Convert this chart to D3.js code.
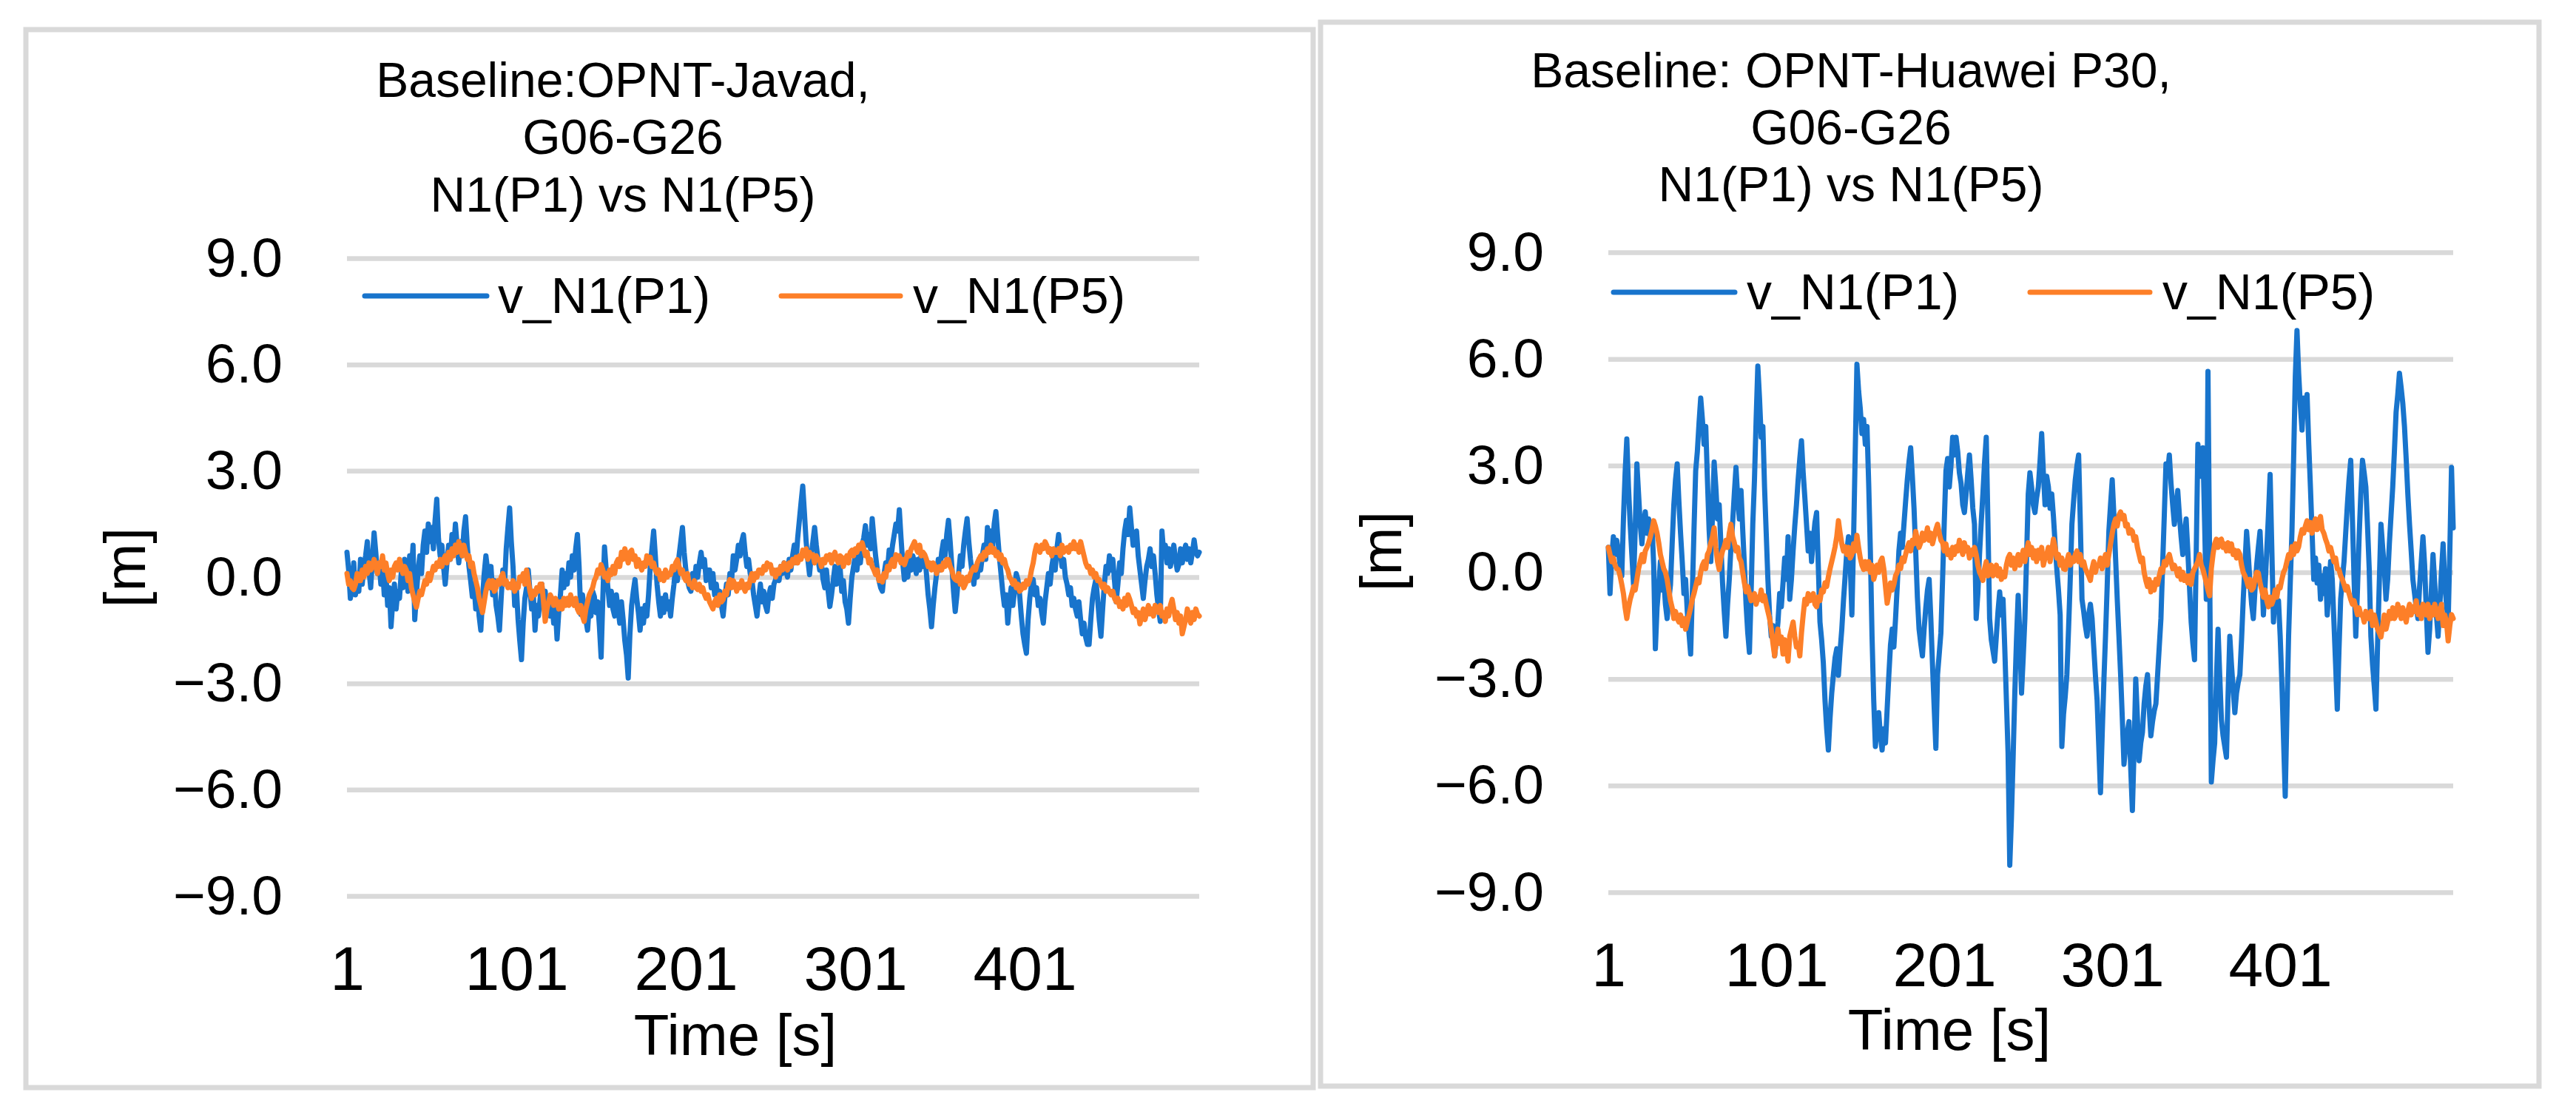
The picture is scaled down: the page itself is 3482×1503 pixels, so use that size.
<!DOCTYPE html>
<html>
<head>
<meta charset="utf-8">
<script src="https://cdn.jsdelivr.net/npm/d3@7"></script>
<style>
  body { margin: 0; background: #fff; }
  text { font-family: "Liberation Sans", Arial, sans-serif; fill: #000; }
</style>
</head>
<body>
<div id="chart-area"></div>
<script>
const W = 3482
const H = 1503

// ---- data ----
const SERIES_NAMES = ["v_N1(P1)", "v_N1(P5)"]
const Y_TICKS = [-9, -6, -3, 0, 3, 6, 9]
const X_TICKS = [1, 101, 201, 301, 401]
const TITLE_LEFT = ["Baseline:OPNT-Javad,", "G06-G26", "N1(P1) vs N1(P5)"]
const TITLE_RIGHT = ["Baseline: OPNT-Huawei P30,", "G06-G26", "N1(P1) vs N1(P5)"]
const X_LABEL = "Time [s]"
const Y_LABEL = "[m]"

// Javad, N1(P1)
const javadP1 = [
 0.7,0.2,-0.6,-0.3,0.4,-0.5,0.1,-0.4,0.5,-0.2,
 0.3,0.6,1.0,0.2,-0.3,0.5,1.25,0.7,0.1,0.4,
 -0.2,0.3,-0.5,0.1,-0.8,-0.3,-1.4,-0.7,-0.2,-0.9,
 -0.4,-0.6,0.1,-0.3,0.5,0.2,-0.4,0.6,0.1,0.9,
 -1.2,-0.5,0.2,0.6,0.1,0.9,1.3,0.7,1.5,1.0,
 1.4,0.8,1.6,2.2,1.1,0.6,0.9,0.3,-0.2,0.4,
 0.9,0.5,1.2,0.8,1.5,0.9,0.4,1.0,0.6,1.3,
 1.7,0.9,0.3,-0.1,-0.55,-0.2,-0.9,-0.4,-1.1,-1.5,
 -0.6,0.1,0.6,0.2,-0.3,0.3,-0.5,-0.1,-0.8,-1.1,
 -1.5,-0.6,0.2,-0.2,0.8,1.4,1.95,1.0,0.3,-0.8,
 -0.3,-1.2,-1.8,-2.33,-1.3,-0.6,-0.3,0.2,-0.4,-0.9,
 -0.5,-1.5,-0.8,-1.1,-0.6,-0.2,-0.8,-0.4,-1.0,-0.6,
 -1.1,-0.7,-1.3,-0.9,-1.75,-1.0,-0.5,0.2,-0.3,0.1,
 -0.2,0.4,0.0,0.6,0.2,0.8,1.2,0.3,-1.05,-0.5,
 -0.9,-1.2,-1.5,-0.8,-1.1,-0.4,-0.55,-1.0,-0.7,-1.4,
 -2.26,-0.6,0.85,0.2,-0.3,-0.8,-0.4,-0.9,-1.1,-0.5,
 -0.9,-1.3,-0.7,-1.2,-1.8,-2.2,-2.85,-1.6,-0.8,-0.4,
 -0.07,-0.6,-1.0,-1.5,-0.9,-1.3,-0.8,-1.1,-0.5,0.3,
 0.8,1.3,0.6,-0.2,-0.7,-1.1,-0.6,-1.0,-0.5,-0.9,
 -0.7,-1.1,-0.6,-0.2,0.3,-0.1,0.6,1.0,1.4,0.7,
 0.2,-0.1,-0.3,-0.4,0.1,-0.2,0.3,0.0,0.4,0.7,
 0.3,0.5,-0.1,0.2,0.2,-0.3,0.1,-0.5,-0.2,-0.7,
 -0.4,-0.8,-1.1,-0.6,-0.2,-0.5,0.1,-0.1,0.6,0.2,
 0.5,0.9,0.6,1.0,1.2,0.7,0.3,0.5,0.1,-0.07,
 -0.5,-0.8,-1.1,-0.6,-0.2,-0.7,-0.4,-0.8,-0.97,-0.5,
 -0.3,-0.6,-0.2,-0.07,0.2,-0.1,0.3,0.1,0.4,0.2,
 0.0,0.5,0.2,0.6,0.9,0.4,1.1,1.6,2.1,2.57,
 1.8,1.0,0.5,0.07,0.6,1.0,1.4,0.9,0.5,0.2,
 0.4,-0.07,-0.3,0.2,-0.4,-0.83,-0.5,-0.1,0.3,-0.2,
 -0.07,0.3,-0.4,-0.1,-0.7,-0.9,-1.3,-0.6,0.0,0.3,
 0.6,0.2,0.7,0.4,0.9,1.1,1.45,0.9,1.2,0.8,
 1.65,1.1,0.6,0.2,-0.1,-0.3,-0.4,0.1,0.4,0.2,
 0.76,0.5,0.9,1.2,1.5,1.3,1.9,1.1,0.4,-0.07,
 0.3,0.0,0.5,0.2,0.6,0.35,0.1,0.5,0.2,0.7,
 0.3,0.6,0.1,-0.5,-0.9,-1.4,-0.8,-0.3,0.1,0.5,
 0.2,0.7,1.0,0.6,1.2,1.6,1.0,0.3,-0.4,-0.97,
 -0.5,0.1,0.6,0.3,0.9,1.3,1.65,1.0,0.5,0.1,
 -0.2,0.3,0.0,0.5,0.2,0.6,0.9,0.5,1.4,1.0,
 1.3,0.8,1.5,1.85,1.2,0.6,0.1,-0.4,-0.8,-0.5,
 -1.3,-0.7,-0.3,-0.8,-0.4,0.1,-0.07,-0.5,-1.1,-1.6,
 -1.9,-2.15,-1.2,-0.6,-0.2,-0.07,-0.5,-0.3,-0.8,-0.6,
 -1.0,-1.3,-0.7,-0.3,0.1,-0.2,0.3,0.6,0.2,0.8,
 1.2,0.7,0.3,0.5,0.0,-0.2,-0.5,-0.3,-0.8,-0.6,
 -0.9,-1.1,-0.7,-1.2,-1.6,-1.3,-1.7,-1.9,-1.9,-1.2,
 -0.6,-0.3,-0.07,-0.6,-1.2,-1.67,-0.9,-0.2,0.3,0.1,
 0.6,0.2,0.5,-0.1,-0.7,-0.2,0.4,0.1,0.8,1.3,
 1.6,1.2,1.95,1.4,0.9,1.1,1.3,0.6,0.2,-0.2,
 -0.6,-0.1,0.3,0.5,0.8,0.3,0.6,0.1,-0.5,-0.9,
 -1.25,1.3,0.7,0.9,0.4,0.8,0.3,0.6,0.9,0.5,
 0.2,0.35,0.8,0.4,0.7,0.9,0.5,0.8,0.4,0.7,
 1.05,0.7,0.6,0.7
]

// Javad, N1(P5)
const javadP5 = [
 0.1,-0.2,-0.1,-0.3,-0.35,-0.2,0.1,-0.1,-0.1,0.2,
 0.0,0.3,0.1,0.4,0.2,0.3,0.5,0.3,0.1,0.4,
 0.3,0.6,0.2,0.4,0.1,-0.1,0.2,0.0,0.3,0.4,
 0.2,0.5,0.3,0.1,0.3,0.2,-0.1,0.1,-0.3,-0.5,
 -0.7,-0.85,-0.6,-0.4,-0.5,-0.3,-0.1,-0.2,0.1,-0.1,
 0.1,0.3,0.2,0.4,0.3,0.5,0.3,0.5,0.6,0.4,
 0.7,0.5,0.8,0.6,0.9,0.7,1.0,0.8,0.6,0.9,
 0.7,0.5,0.6,0.3,0.4,0.1,-0.1,-0.3,-0.6,-0.8,
 -1.0,-0.7,-0.4,-0.2,-0.1,-0.3,-0.1,-0.4,-0.3,-0.1,
 -0.2,0.0,0.1,-0.2,-0.1,-0.3,-0.2,-0.3,-0.1,-0.4,
 -0.2,-0.3,0.0,-0.1,0.1,-0.2,0.2,-0.1,-0.4,-0.6,
 -0.4,-0.5,-0.3,-0.4,-0.2,-0.2,-0.7,-1.25,-0.9,-0.7,
 -0.5,-0.6,-0.8,-0.6,-0.7,-0.9,-0.7,-0.9,-0.6,-0.8,
 -0.6,-0.8,-0.5,-0.7,-0.8,-0.6,-0.9,-1.0,-0.8,-1.1,
 -1.25,-0.9,-0.7,-0.5,-0.4,-0.3,-0.1,0.0,0.2,0.1,
 0.35,0.2,0.0,0.1,-0.1,0.2,0.07,0.3,0.1,0.4,
 0.5,0.3,0.7,0.5,0.8,0.6,0.4,0.7,0.76,0.5,
 0.6,0.3,0.5,0.35,0.2,0.4,0.3,0.6,0.4,0.56,
 0.3,0.4,0.2,0.1,0.2,-0.07,0.1,-0.1,0.2,0.0,
 0.1,0.07,0.3,0.2,0.4,0.49,0.3,0.1,0.2,0.0,
 -0.1,0.1,-0.2,-0.2,-0.3,-0.1,-0.3,-0.35,-0.2,-0.4,
 -0.3,-0.49,-0.6,-0.5,-0.7,-0.8,-0.9,-0.7,-0.6,-0.8,
 -0.5,-0.7,-0.63,-0.4,-0.5,-0.2,-0.07,-0.3,-0.1,-0.2,
 -0.4,-0.2,-0.3,-0.1,-0.28,-0.4,-0.2,-0.3,-0.07,0.1,
 -0.1,0.1,0.0,0.2,0.2,0.1,0.3,0.2,0.4,0.3,
 0.35,0.1,0.2,0.0,0.2,0.1,0.3,0.2,0.4,0.35,
 0.2,0.4,0.3,0.5,0.4,0.56,0.4,0.6,0.5,0.76,
 0.6,0.8,0.5,0.7,0.6,0.63,0.4,0.6,0.5,0.49,
 0.3,0.5,0.4,0.6,0.5,0.63,0.4,0.6,0.7,0.5,
 0.4,0.6,0.56,0.3,0.5,0.6,0.4,0.7,0.76,0.6,
 0.8,0.7,0.9,0.8,0.97,0.8,0.6,0.7,0.4,0.5,
 0.3,0.2,0.07,0.2,-0.1,0.0,-0.14,0.1,0.0,0.3,
 0.2,0.4,0.5,0.3,0.63,0.5,0.6,0.4,0.5,0.35,
 0.5,0.7,0.6,0.8,0.9,1.0,0.8,0.7,0.9,0.6,
 0.7,0.63,0.5,0.3,0.4,0.2,0.4,0.3,0.1,0.28,
 0.3,0.2,0.4,0.3,0.5,0.49,0.3,0.2,0.0,-0.07,
 -0.1,0.1,-0.2,0.0,-0.3,-0.2,0.0,-0.1,0.1,0.2,
 0.28,0.2,0.4,0.5,0.6,0.5,0.7,0.6,0.8,0.7,
 0.9,0.7,0.8,0.6,0.7,0.5,0.63,0.4,0.5,0.3,
 0.2,0.0,-0.07,-0.2,-0.1,-0.3,-0.2,-0.4,-0.35,-0.2,
 -0.3,-0.1,-0.2,-0.07,0.2,0.4,0.7,0.9,0.8,0.7,
 0.9,0.8,1.0,0.9,0.7,0.8,0.6,0.8,0.7,0.7,
 0.8,0.6,0.9,0.7,0.8,0.83,0.7,0.9,0.8,1.0,
 0.8,0.9,0.7,1.0,0.8,0.6,0.4,0.28,0.3,0.1,
 0.2,0.0,0.1,-0.1,-0.07,-0.2,-0.3,-0.2,-0.4,-0.3,
 -0.42,-0.5,-0.4,-0.6,-0.7,-0.6,-0.83,-0.7,-0.9,-0.6,
 -0.8,-0.5,-0.63,-0.8,-1.0,-0.9,-1.1,-1.0,-1.32,-1.1,
 -0.9,-1.2,-1.0,-0.8,-1.04,-0.9,-1.1,-0.8,-0.9,-1.0,
 -0.8,-1.1,-1.0,-1.25,-0.9,-1.1,-0.8,-0.63,-0.9,-1.2,
 -1.0,-1.3,-1.1,-1.6,-1.4,-1.2,-0.9,-1.1,-1.3,-1.0,
 -1.2,-0.9,-1.05,-1.1
]

// Huawei P30, N1(P1)
const huaweiP1 = [
 0.7,-0.6,0.4,1.0,0.5,0.9,0.6,0.2,-0.1,1.5,
 2.8,3.75,2.4,1.35,0.5,-0.35,1.2,3.05,2.2,1.35,
 0.8,1.4,1.7,1.1,1.5,0.9,1.35,0.2,-2.15,-1.0,
 -0.4,0.3,-0.5,-0.2,-0.9,-1.3,-0.8,-0.35,0.8,1.9,
 2.6,3.05,2.0,1.1,0.3,-0.6,-0.2,-1.1,-1.7,-2.3,
 -0.6,1.2,2.85,3.4,4.2,4.9,4.3,3.6,4.1,2.6,
 1.2,0.3,1.6,3.1,2.4,1.5,1.9,0.8,-0.3,-1.1,
 -1.8,-0.9,-0.2,0.7,1.4,2.2,2.95,2.1,1.5,2.3,
 1.2,0.2,-0.9,-1.7,-2.25,-0.6,1.35,2.6,4.3,5.8,
 4.9,3.8,4.1,2.4,1.1,-0.2,-1.2,-1.8,-1.5,-2.35,
 -1.9,-1.4,-0.6,-0.97,-0.3,0.4,-0.2,1.0,-0.76,-0.2,
 0.6,1.3,1.9,2.6,3.2,3.7,2.8,2.1,1.35,0.6,
 1.1,0.3,0.9,1.4,1.68,0.2,-1.4,-1.9,-2.55,-3.6,
 -4.4,-5.0,-4.1,-3.4,-2.88,-2.4,-2.15,-2.9,-2.2,-1.6,
 -0.8,-0.1,0.6,1.0,0.3,-1.2,0.9,3.4,5.85,5.1,
 4.6,3.9,4.3,3.6,4.1,2.5,0.6,-1.8,-3.6,-4.9,
 -4.3,-3.95,-4.6,-5.0,-4.4,-4.8,-3.85,-2.9,-2.04,-1.6,
 -2.1,-1.3,-0.4,0.6,1.1,0.7,1.35,2.0,2.6,3.1,
 3.5,2.7,1.8,0.6,-0.7,-1.6,-2.0,-2.35,-1.6,-1.0,
 -0.5,-0.2,-1.3,-2.6,-3.8,-4.95,-2.88,-2.3,-1.7,-0.2,
 1.4,2.85,3.2,2.4,3.0,3.8,3.3,3.8,3.4,2.8,
 2.5,1.9,1.68,2.2,2.8,3.3,2.6,1.8,1.35,-1.3,
 -0.6,0.5,1.4,2.2,3.1,3.8,1.4,-1.3,-1.9,-2.2,
 -2.5,-1.8,-1.1,-0.55,-1.2,-0.76,-2.1,-3.6,-5.1,-8.24,
 -6.9,-5.2,-3.4,-1.9,-0.65,-1.8,-3.4,-2.4,-1.3,0.4,
 2.2,2.8,2.4,1.9,1.68,2.1,2.4,3.1,3.9,2.8,
 1.9,2.7,2.4,1.8,2.2,1.57,0.8,0.1,-0.5,-1.2,
 -4.9,-4.0,-3.5,-2.88,-1.6,-0.2,1.35,2.0,2.6,3.0,
 3.3,1.4,-0.76,-1.1,-1.5,-1.8,-1.2,-0.9,-1.3,-2.1,
 -2.9,-3.6,-4.9,-6.2,-4.6,-3.1,-1.8,-0.4,1.15,1.9,
 2.6,1.6,0.4,-0.76,-1.8,-2.88,-4.1,-5.4,-4.9,-4.5,
 -4.2,-5.5,-6.7,-5.0,-3.0,-4.1,-5.3,-4.8,-4.5,-3.7,
 -3.2,-2.88,-3.8,-4.6,-4.2,-3.9,-3.7,-2.9,-2.1,-1.3,
 0.2,1.6,3.05,2.8,3.3,2.5,1.9,1.35,1.8,2.3,
 1.6,1.0,0.5,1.1,1.5,0.6,-0.4,-1.4,-2.0,-2.46,
 0.5,3.6,3.1,2.7,3.5,1.4,-0.76,5.65,0.2,-5.9,
 -5.3,-4.8,-3.1,-1.6,-2.9,-4.15,-4.6,-4.9,-5.2,-3.4,
 -1.8,-2.6,-3.3,-3.95,-3.4,-3.1,-2.88,-1.9,-0.76,0.2,
 1.15,0.5,-0.3,-0.9,-1.3,-0.5,0.2,0.7,1.15,0.1,
 -1.2,-0.4,0.6,1.6,2.75,0.7,-1.4,-0.6,-1.1,-0.8,
 -1.8,-3.1,-4.7,-6.3,-4.0,-1.8,-0.3,1.15,3.2,5.5,
 6.8,5.6,4.7,4.0,4.9,4.4,5.0,3.6,2.4,1.1,
 -0.2,0.4,-0.3,0.2,-0.76,-0.1,-0.6,0.1,-1.2,-0.5,
 0.3,-0.2,-1.4,-2.6,-3.85,-2.2,-0.76,-0.2,0.3,1.1,
 1.9,2.6,3.15,1.5,-0.2,-1.8,-0.5,1.0,2.2,3.15,
 2.8,2.4,1.3,0.1,-1.8,-2.6,-3.2,-3.85,-2.0,-0.3,
 1.35,0.7,0.1,-0.76,-0.2,0.8,1.6,2.4,3.4,4.5,
 5.0,5.6,5.2,4.75,4.1,3.2,2.2,1.35,0.6,-0.2,
 -0.6,-1.0,-1.3,-0.4,0.3,1.0,0.2,-1.1,-2.25,-1.6,
 -0.5,0.5,-0.3,-1.2,-1.8,-1.0,0.0,0.8,-0.3,-0.9,
 -1.4,0.6,2.95,1.25
]

// Huawei P30, N1(P5)
const huaweiP5 = [
 0.7,0.5,0.3,0.4,0.2,0.1,0.08,-0.1,-0.34,-0.6,
 -1.0,-1.3,-1.0,-0.76,-0.6,-0.4,-0.5,-0.2,0.1,0.3,
 0.5,0.3,0.6,0.7,0.83,1.0,1.2,1.45,1.3,1.1,
 0.83,0.5,0.3,0.1,0.0,-0.2,-0.5,-0.8,-1.0,-1.3,
 -1.1,-1.3,-1.4,-1.2,-1.5,-1.3,-1.6,-1.4,-1.2,-1.0,
 -0.76,-0.6,-0.4,-0.2,-0.3,0.0,0.2,0.3,0.1,0.5,
 0.6,0.83,1.0,1.25,0.7,0.3,0.08,0.4,0.6,0.72,
 0.9,0.7,1.1,1.35,1.0,0.83,0.6,0.7,0.4,0.3,
 0.0,-0.3,-0.55,-0.4,-0.6,-0.8,-0.76,-0.6,-0.9,-0.7,
 -0.76,-0.5,-0.8,-0.66,-0.9,-1.1,-1.3,-1.6,-2.0,-2.35,
 -1.9,-1.6,-2.0,-1.82,-2.3,-1.9,-2.14,-2.5,-1.8,-1.6,
 -1.4,-1.8,-2.1,-2.0,-2.35,-1.7,-1.2,-0.76,-0.9,-0.6,
 -0.8,-0.76,-0.6,-0.9,-0.97,-0.7,-0.8,-0.5,-0.55,-0.3,
 -0.4,-0.13,0.1,0.3,0.5,0.72,1.0,1.45,1.1,0.8,
 0.6,0.72,0.5,0.7,0.4,0.5,0.8,0.6,1.04,0.7,
 0.4,0.2,0.08,0.3,0.1,0.3,0.0,0.2,-0.2,-0.02,
 0.2,0.0,0.3,0.4,0.1,-0.4,-0.87,-0.6,-0.3,-0.5,
 -0.34,-0.1,0.0,0.2,0.1,0.4,0.3,0.5,0.7,0.83,
 0.6,0.9,0.8,1.15,0.9,0.7,0.83,1.1,0.9,1.0,
 1.25,0.9,1.1,0.8,1.0,1.2,1.35,1.1,0.9,0.83,
 0.6,0.8,0.5,0.62,0.4,0.7,0.5,0.72,0.6,0.9,
 0.7,0.5,0.83,0.6,0.7,0.4,0.62,0.5,0.7,0.5,
 0.2,0.0,-0.1,-0.23,0.1,0.3,-0.1,0.08,0.2,-0.1,
 -0.02,0.2,-0.1,0.1,-0.2,0.0,-0.13,0.2,0.4,0.5,
 0.2,0.4,0.1,0.3,0.5,0.2,0.4,0.62,0.3,0.6,
 0.83,0.5,0.7,0.4,0.6,0.3,0.62,0.4,0.7,0.2,
 0.4,0.5,0.7,0.3,0.6,0.93,0.7,0.4,0.5,0.2,
 0.4,0.1,0.08,0.3,0.5,0.2,0.4,0.3,0.5,0.6,
 0.3,0.5,0.2,0.3,0.1,0.0,-0.1,-0.23,0.1,0.3,
 0.0,0.2,0.19,0.4,0.1,0.3,0.5,0.2,0.5,0.8,
 1.1,1.35,1.5,1.3,1.6,1.7,1.5,1.6,1.3,1.35,
 1.1,1.2,1.15,0.9,1.0,0.7,0.5,0.3,0.4,0.0,
 -0.23,-0.4,-0.2,-0.55,-0.3,-0.5,-0.2,-0.34,-0.1,0.1,
 0.0,0.3,0.2,0.4,0.5,0.3,0.1,0.2,0.08,-0.1,
 0.1,-0.2,0.0,-0.23,-0.1,-0.3,-0.1,-0.34,0.0,0.1,
 0.2,0.3,0.5,0.2,0.08,-0.1,-0.3,-0.5,-0.66,0.1,
 0.5,0.8,0.93,0.7,0.9,0.93,0.7,0.8,0.6,0.83,
 0.6,0.8,0.5,0.62,0.4,0.6,0.5,0.2,0.0,-0.1,
 -0.23,-0.4,-0.2,-0.5,-0.44,-0.2,0.0,-0.02,-0.3,-0.5,
 -0.7,-0.5,-0.8,-0.97,-0.7,-0.9,-0.76,-0.5,-0.7,-0.4,
 -0.44,-0.2,0.0,0.1,0.3,0.5,0.4,0.72,0.5,0.8,
 0.6,0.72,1.0,1.2,1.1,1.3,1.45,1.2,1.4,1.1,
 1.35,1.5,1.2,1.4,1.57,1.2,1.1,0.93,0.8,0.6,
 0.7,0.5,0.3,0.4,0.1,0.08,-0.1,-0.2,-0.34,-0.5,
 -0.4,-0.6,-0.76,-0.9,-0.8,-1.0,-1.19,-1.0,-1.2,-1.19,
 -1.4,-1.1,-1.3,-1.3,-1.1,-1.5,-1.2,-1.4,-1.6,-1.7,
 -1.82,-1.5,-1.2,-1.6,-1.4,-1.1,-1.3,-1.0,-1.3,-1.2,
 -0.9,-1.08,-1.3,-1.0,-1.2,-1.4,-1.1,-0.9,-1.2,-0.97,
 -1.1,-0.8,-1.19,-1.0,-1.3,-0.9,-1.08,-1.2,-0.9,-1.3,
 -1.0,-1.2,-0.9,-1.08,-1.3,-1.1,-0.9,-1.5,-1.2,-1.4,
 -1.93,-1.5,-1.19,-1.3
]

const COLORS = ["#1874cc", "#fd7f28"]
const GRID = "#d9d9d9"

const svg = d3.select("#chart-area").append("svg")
    .attr("width", W)
    .attr("height", H)

svg.append("rect").attr("width", W).attr("height", H).attr("fill", "#fff")

const panels = [
    {
        box: [35, 40, 1740, 1430],
        plot: { x0: 469, x1: 1621, y0: 349, y1: 1211 },
        title: TITLE_LEFT, titleX: 842, titleY: [131, 208, 286],
        yTitle: [196, 767], xTitle: [994, 1426],
        legendY: 400, legendText: 423,
        keys: [[493, 658, 673], [1056, 1217, 1234]],
        series: [javadP1, javadP5]
    },
    {
        box: [1785, 30, 1647, 1438],
        plot: { x0: 2174, x1: 3316, y0: 341, y1: 1206 },
        title: TITLE_RIGHT, titleX: 2502, titleY: [118, 195, 272],
        yTitle: [1894, 745], xTitle: [2635, 1419],
        legendY: 395, legendText: 418,
        keys: [[2181, 2345, 2361], [2744, 2906, 2923]],
        series: [huaweiP1, huaweiP5]
    }
]

panels.forEach(p => {
    const g = svg.append("g")

    // frame
    g.append("rect")
        .attr("x", p.box[0]).attr("y", p.box[1])
        .attr("width", p.box[2]).attr("height", p.box[3])
        .attr("fill", "#fff")
        .attr("stroke", GRID)
        .attr("stroke-width", 7)

    const n = p.series[0].length
    const x = d3.scaleLinear().domain([1, n]).range([p.plot.x0, p.plot.x1])
    const y = d3.scaleLinear().domain([-9, 9]).range([p.plot.y1, p.plot.y0])

    // y axis + gridlines
    const yAxis = d3.axisLeft(y)
        .tickValues(Y_TICKS)
        .tickFormat(d3.format(".1f"))
        .tickSize(-(p.plot.x1 - p.plot.x0))
        .tickPadding(87)
    const ya = g.append("g")
        .attr("transform", `translate(${p.plot.x0},0)`)
        .call(yAxis)
    ya.select(".domain").remove()
    ya.selectAll("line").attr("stroke", GRID).attr("stroke-width", 6.5)
    ya.selectAll("text")
        .attr("font-size", "75px")
        .attr("font-family", "'Liberation Sans', Arial, sans-serif")
        .attr("fill", "#000")

    // x axis
    const xAxis = d3.axisBottom(x)
        .tickValues(X_TICKS)
        .tickFormat(d3.format("d"))
        .tickSize(0)
        .tickPadding(67)
    const xa = g.append("g")
        .attr("transform", `translate(0,${p.plot.y1})`)
        .call(xAxis)
    xa.select(".domain").remove()
    xa.selectAll("text")
        .attr("font-size", "84px")
        .attr("font-family", "'Liberation Sans', Arial, sans-serif")
        .attr("fill", "#000")

    // series
    const line = d3.line()
        .x((d, i) => x(i + 1))
        .y(d => y(d))
    p.series.forEach((s, k) => {
        g.append("path")
            .datum(s)
            .attr("d", line)
            .attr("fill", "none")
            .attr("stroke", COLORS[k])
            .attr("stroke-width", 7)
            .attr("stroke-linejoin", "round")
            .attr("stroke-linecap", "round")
    })

    // title
    const t = g.append("text")
        .attr("text-anchor", "middle")
        .attr("font-size", "66px")
    p.title.forEach((s, i) => {
        t.append("tspan").attr("x", p.titleX).attr("y", p.titleY[i]).text(s)
    })

    // legend
    p.keys.forEach((k, i) => {
        g.append("line")
            .attr("x1", k[0]).attr("x2", k[1])
            .attr("y1", p.legendY).attr("y2", p.legendY)
            .attr("stroke", COLORS[i])
            .attr("stroke-width", 7)
            .attr("stroke-linecap", "round")
        g.append("text")
            .attr("x", k[2]).attr("y", p.legendText)
            .attr("font-size", "68px")
            .text(SERIES_NAMES[i])
    })

    // axis titles
    g.append("text")
        .attr("transform", `translate(${p.yTitle[0]},${p.yTitle[1]}) rotate(-90)`)
        .attr("text-anchor", "middle")
        .attr("font-size", "78px")
        .text(Y_LABEL)
    g.append("text")
        .attr("x", p.xTitle[0]).attr("y", p.xTitle[1])
        .attr("text-anchor", "middle")
        .attr("font-size", "78px")
        .text(X_LABEL)
})
</script>
</body>
</html>
